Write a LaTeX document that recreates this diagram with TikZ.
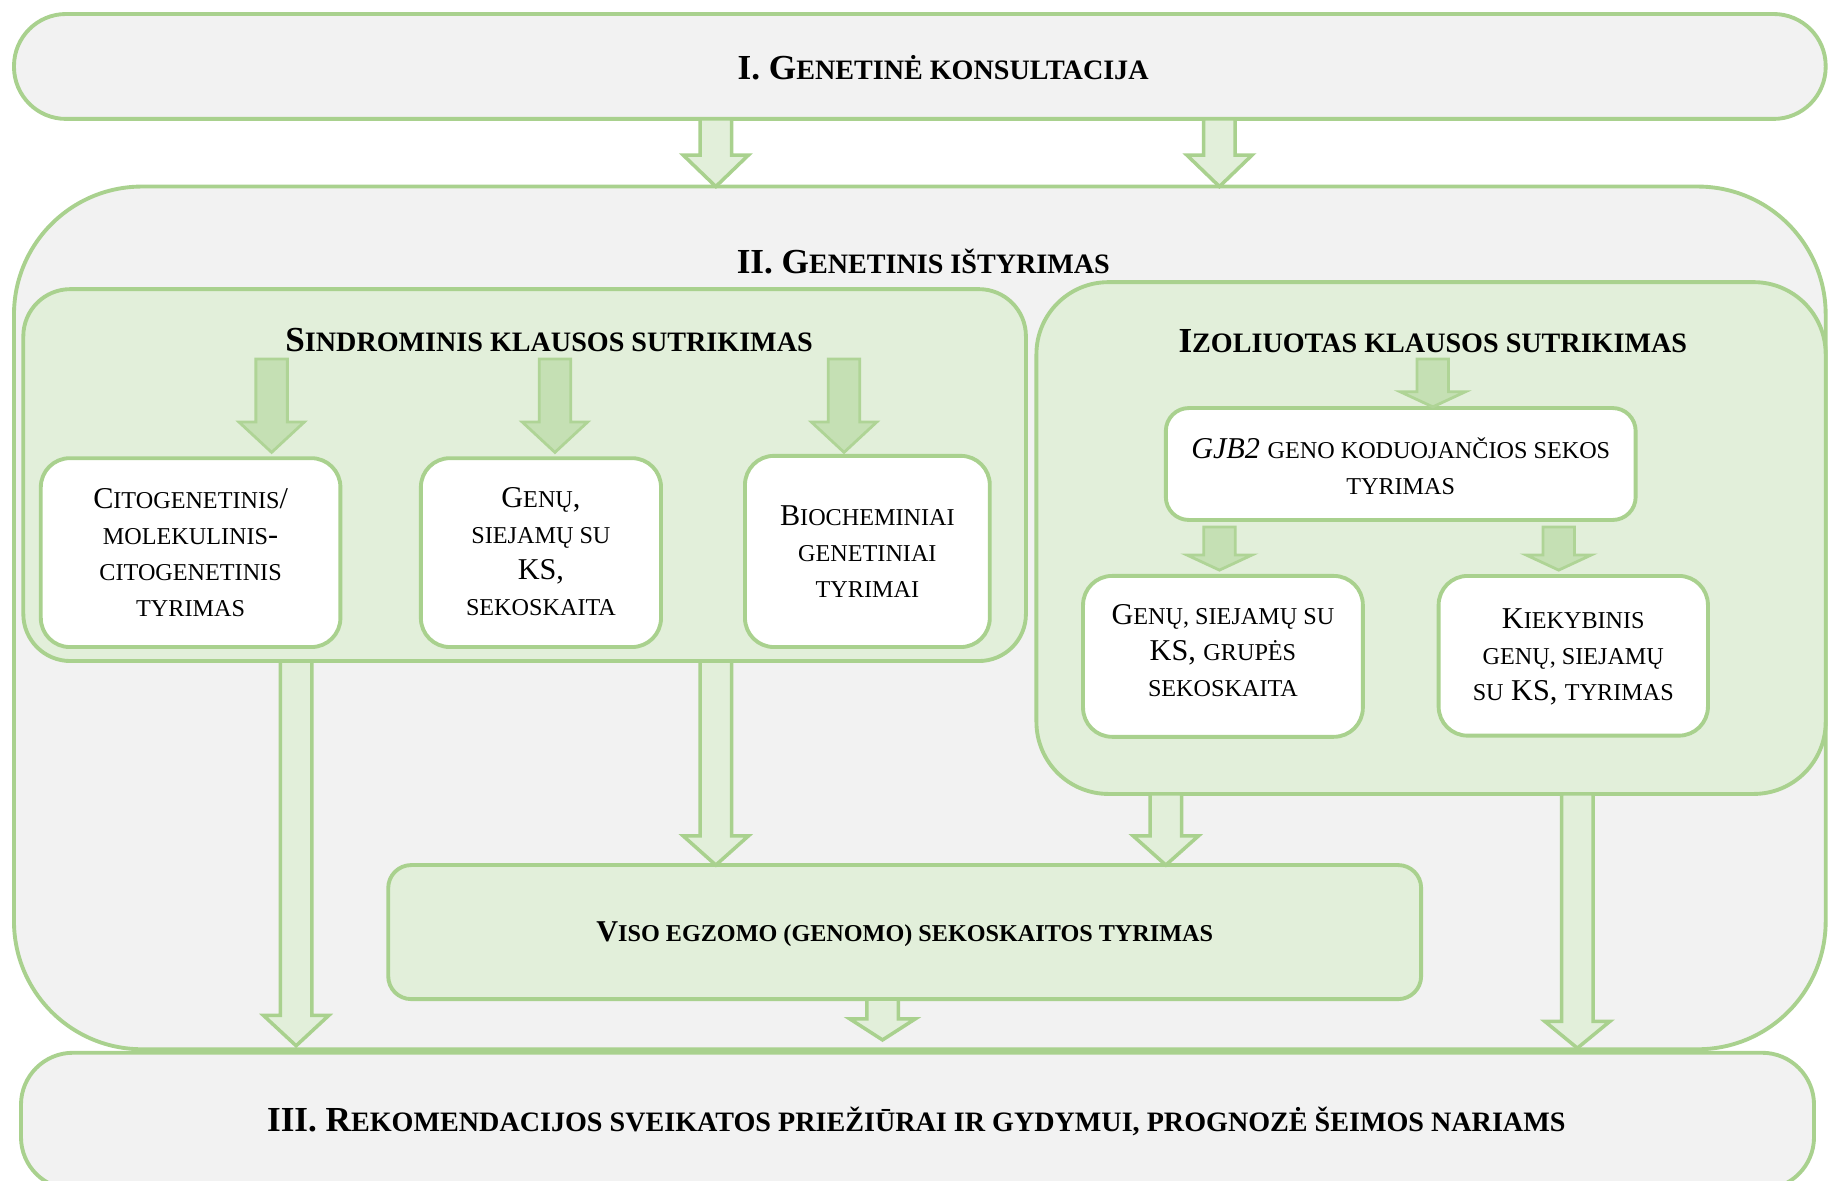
\documentclass[tikz,border=0pt]{standalone}
\usepackage{fontspec}
\setmainfont{Liberation Serif}
\usetikzlibrary{calc,fit}
\definecolor{gborder}{HTML}{A9D18E}
\definecolor{gfill}{HTML}{E2EFDA}
\definecolor{gsolid}{HTML}{C5E0B4}
\definecolor{greybg}{HTML}{F2F2F2}
\makeatletter
\newcommand\lc[1]{{\fontsize{\fpeval{0.8*\f@size}}{\f@baselineskip}\selectfont #1}}
\makeatother
\newcommand\headfont{\fontsize{10}{12}\selectfont\bfseries}
\newcommand\bodyfont{\fontsize{8.6}{10.3}\selectfont}
\def\ul{0.33171pt}
% block arrow: #1 style, #2 top centre, #3 tip, #4 head length (picture units)
\newcommand\blockarrow[4]{%
  \draw[#1] let \p1=#2, \p2=#3 in
    ({\x1-13.5*\ul},\y1) -- ({\x1-13.5*\ul},{\y2+#4*\ul}) -- ({\x1-28*\ul},{\y2+#4*\ul})
    -- (\x1,\y2) -- ({\x1+28*\ul},{\y2+#4*\ul}) -- ({\x1+13.5*\ul},{\y2+#4*\ul})
    -- ({\x1+13.5*\ul},\y1) -- cycle;}
\begin{document}
\begin{tikzpicture}[x=0.011658cm,y=-0.011658cm,
  every node/.style={inner sep=0pt, outer sep=0pt},
  stage/.style={draw=gborder, line width=1.1pt, fill=greybg},
  grp/.style={draw=gborder, line width=1.1pt, fill=gfill},
  wbox/.style={draw=gborder, line width=1.1pt, fill=white, rounded corners=0.29cm},
  btxt/.style={align=center, font=\bodyfont},
  hollowarrow/.style={draw=gborder, line width=1pt, fill=gfill, line join=miter},
  solidarrow/.style={draw=gborder!80!gsolid, line width=0.8pt, fill=gsolid, line join=miter},
  hdtxt/.style={font=\headfont},
]
\useasboundingbox (0,0) rectangle (1568,1013);
\fill[white] (0,0) rectangle (1568,1013);

% stage II
\node[stage, rounded corners=1.28cm, fit={(12,160) (1566,900)}] (II) {};
\node[hdtxt] (IIt) at (792,224) {II. G\lc{ENETINIS IŠTYRIMAS}};

% stage I
\node[stage, rounded corners=0.52cm, fit={(12,12) (1566,102)}] (I) {};
\node[hdtxt] (It) at (809,58) {I. G\lc{ENETINĖ KONSULTACIJA}};

% stage III
\node[stage, rounded corners=0.52cm, fit={(18,903) (1556,1020)}] (III) {};
\node[hdtxt] (IIIt) at (786,962) {III. R\lc{EKOMENDACIJOS SVEIKATOS PRIEŽIŪRAI IR GYDYMUI, PROGNOZĖ ŠEIMOS NARIAMS}};

% arrows I -> II
\coordinate (a1) at (614,0);
\coordinate (a2) at (1046,0);
\blockarrow{hollowarrow}{(I.south -| a1)}{(II.north -| a1)}{27}
\blockarrow{hollowarrow}{(I.south -| a2)}{(II.north -| a2)}{27}

% syndromic group
\node[grp, rounded corners=0.47cm, fit={(20,248) (880,567)}] (S) {};
\node[hdtxt] (St) at (471,292) {S\lc{INDROMINIS KLAUSOS SUTRIKIMAS}};
\node[wbox, fit={(35,393) (292,555)}] (cito) {};
\node[btxt] (citot) at (cito) {C\lc{ITOGENETINIS}/\\ \lc{MOLEKULINIS}-\\ \lc{CITOGENETINIS}\\ \lc{TYRIMAS}};
\node[wbox, fit={(361,393) (567,555)}] (genu) {};
\node[btxt] (genut) at ($(genu)+(0,-1)$) {G\lc{ENŲ},\\ \lc{SIEJAMŲ SU}\\ KS,\\ \lc{SEKOSKAITA}};
\node[wbox, fit={(639,391) (849,555)}] (bio) {};
\node[btxt] (biot) at (bio) {B\lc{IOCHEMINIAI}\\ \lc{GENETINIAI}\\ \lc{TYRIMAI}};

\coordinate (s1) at (233,308); \coordinate (s1t) at (233,388);
\coordinate (s2) at (476,308); \coordinate (s2t) at (476,388);
\coordinate (s3) at (724,308); \coordinate (s3t) at (724,388);
\blockarrow{solidarrow}{(s1)}{(s1t)}{26}
\blockarrow{solidarrow}{(s2)}{(s2t)}{26}
\blockarrow{solidarrow}{(s3)}{(s3t)}{26}

% isolated group
\node[grp, rounded corners=0.72cm, fit={(889,242) (1566,681)}] (Z) {};
\node[hdtxt] (Zt) at (1229,293) {I\lc{ZOLIUOTAS KLAUSOS SUTRIKIMAS}};
\node[wbox, rounded corners=0.23cm, fit={(1000,350) (1403,446)}] (gjb) {};
\node[btxt] (gjbt) at ($(gjb)+(0,2)$) {\textit{GJB2} \lc{GENO KODUOJANČIOS SEKOS}\\ \lc{TYRIMAS}};
\node[wbox, fit={(929,494) (1169,632)}] (grupe) {};
\node[btxt] (grupet) at ($(grupe)+(0,-5)$) {G\lc{ENŲ, SIEJAMŲ SU}\\ KS, \lc{GRUPĖS}\\ \lc{SEKOSKAITA}};
\node[wbox, fit={(1234,494) (1465,631)}] (kiek) {};
\node[btxt] (kiekt) at ($(kiek)+(0,1)$) {K\lc{IEKYBINIS}\\ \lc{GENŲ, SIEJAMŲ}\\ \lc{SU} KS, \lc{TYRIMAS}};

\coordinate (z1) at (1229,308); \coordinate (z1t) at (1229,349);
\coordinate (z2) at (1046,0); \coordinate (z2t) at (1046,489);
\coordinate (z3) at (1337,0); \coordinate (z3t) at (1337,489);
\blockarrow{solidarrow}{(z1)}{(z1t)}{13}
\blockarrow{solidarrow}{([yshift=-2pt]gjb.south -| z2)}{(z2t)}{13}
\blockarrow{solidarrow}{([yshift=-2pt]gjb.south -| z3)}{(z3t)}{13}

% whole exome box
\node[grp, rounded corners=0.23cm, fit={(333,742) (1219,857)}] (viso) {};
\node[font=\fontsize{8.6}{11}\selectfont\bfseries] (visot) at ($(viso)+(0,2)$) {V\lc{ISO EGZOMO (GENOMO) SEKOSKAITOS TYRIMAS}};

% long arrows
\coordinate (l1) at (254,0);
\coordinate (m1) at (614,0);
\coordinate (m2) at (1000,0);
\coordinate (v1) at (757,0);
\coordinate (r1) at (1353,0);
\coordinate (l1t) at (254,897);
\coordinate (r1t) at (1353,899);
\coordinate (v1t) at (757,892);
\blockarrow{hollowarrow}{(S.south -| l1)}{(l1t)}{26}
\blockarrow{hollowarrow}{(S.south -| m1)}{(viso.north -| m1)}{25}
\blockarrow{hollowarrow}{(Z.south -| m2)}{(viso.north -| m2)}{25}
\blockarrow{hollowarrow}{(viso.south -| v1)}{(v1t)}{18}
\blockarrow{hollowarrow}{(Z.south -| r1)}{(r1t)}{23}
\end{tikzpicture}
\end{document}
